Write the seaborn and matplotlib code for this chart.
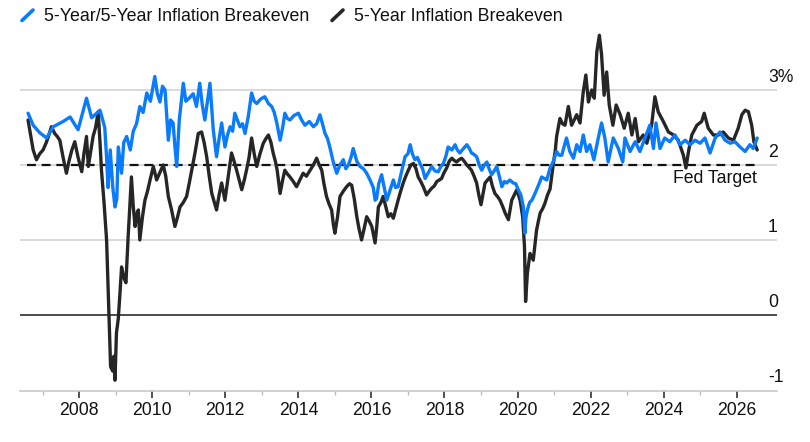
import pandas as pd
import matplotlib.pyplot as plt
import seaborn as sns
from matplotlib.lines import Line2D

# 5-Year/5-Year forward breakeven (blue), decimal years
fwd_years = [
    2006.60, 2006.74, 2006.92, 2007.11, 2007.29, 2007.56, 2007.75, 2007.97, 2008.20, 2008.34,
    2008.57, 2008.70, 2008.75, 2008.79, 2008.85, 2008.92, 2008.98, 2009.03, 2009.07, 2009.16,
    2009.22, 2009.30, 2009.40, 2009.48, 2009.57, 2009.66, 2009.75, 2009.85, 2009.95, 2010.07,
    2010.14, 2010.21, 2010.28, 2010.35, 2010.44, 2010.50, 2010.57, 2010.62, 2010.67, 2010.74,
    2010.85, 2010.92, 2011.03, 2011.12, 2011.21, 2011.30, 2011.37, 2011.44, 2011.51, 2011.58,
    2011.67, 2011.76, 2011.83, 2011.90, 2011.99, 2012.06, 2012.13, 2012.20, 2012.26, 2012.33,
    2012.40, 2012.47, 2012.54, 2012.63, 2012.72, 2012.79, 2012.86, 2012.97, 2013.08, 2013.18,
    2013.27, 2013.34, 2013.41, 2013.50, 2013.57, 2013.63, 2013.70, 2013.77, 2013.88, 2014.00,
    2014.09, 2014.18, 2014.30, 2014.41, 2014.50, 2014.59, 2014.66, 2014.73, 2014.80, 2014.86,
    2014.95, 2015.05, 2015.14, 2015.23, 2015.30, 2015.37, 2015.44, 2015.50, 2015.60, 2015.69,
    2015.78, 2015.87, 2015.96, 2016.05, 2016.10, 2016.14, 2016.20, 2016.28, 2016.35, 2016.42,
    2016.50, 2016.60, 2016.66, 2016.73, 2016.82, 2016.92, 2017.00, 2017.06, 2017.12, 2017.19,
    2017.26, 2017.33, 2017.40, 2017.47, 2017.56, 2017.65, 2017.74, 2017.83, 2017.90, 2017.97,
    2018.04, 2018.10, 2018.20, 2018.29, 2018.35, 2018.42, 2018.52, 2018.61, 2018.68, 2018.74,
    2018.81, 2018.88, 2018.95, 2019.02, 2019.09, 2019.16, 2019.22, 2019.29, 2019.36, 2019.43,
    2019.50, 2019.57, 2019.64, 2019.70, 2019.79, 2019.88, 2019.95, 2020.02, 2020.09, 2020.16,
    2020.20, 2020.23, 2020.27, 2020.33, 2020.39, 2020.46, 2020.52, 2020.59, 2020.66, 2020.73,
    2020.80, 2020.89, 2020.98, 2021.07, 2021.14, 2021.21, 2021.34, 2021.43, 2021.53, 2021.62,
    2021.71, 2021.80, 2021.89, 2021.98, 2022.09, 2022.21, 2022.30, 2022.39, 2022.48, 2022.55,
    2022.62, 2022.76, 2022.88, 2022.94, 2023.08, 2023.22, 2023.35, 2023.49, 2023.62, 2023.72,
    2023.79, 2023.90, 2024.03, 2024.17, 2024.31, 2024.45, 2024.59, 2024.72, 2024.86, 2025.00,
    2025.13, 2025.27, 2025.41, 2025.54, 2025.68, 2025.82, 2025.95, 2026.09, 2026.23, 2026.36,
    2026.45, 2026.56,
]
fwd_vals = [
    2.69, 2.53, 2.43, 2.36, 2.51, 2.58, 2.64, 2.47, 2.89, 2.63,
    2.73, 2.50, 2.10, 1.70, 2.20, 1.70, 1.44, 1.55, 2.24, 1.89,
    2.30, 2.38, 2.20, 2.45, 2.55, 2.78, 2.70, 2.96, 2.85, 3.18,
    2.95, 2.84, 3.05, 3.00, 2.33, 2.60, 2.56, 2.25, 1.98, 2.60,
    3.09, 2.85, 2.90, 2.95, 2.78, 3.09, 2.80, 2.60, 2.85, 3.09,
    2.47, 2.11, 2.35, 2.56, 2.24, 2.40, 2.51, 2.45, 2.69, 2.60,
    2.51, 2.55, 2.42, 2.65, 2.96, 2.85, 2.82, 2.88, 2.91, 2.82,
    2.78, 2.70, 2.56, 2.33, 2.50, 2.69, 2.62, 2.60, 2.66, 2.69,
    2.60, 2.53, 2.58, 2.51, 2.55, 2.67, 2.55, 2.42, 2.35, 2.24,
    2.05, 1.89, 2.00, 2.07, 1.95, 2.00, 2.10, 2.22, 2.05, 1.98,
    1.95, 1.89, 1.80, 1.70, 1.53, 1.55, 1.75, 1.87, 1.70, 1.53,
    1.65, 1.80, 1.70, 1.71, 1.90, 2.11, 2.15, 2.27, 2.15, 2.07,
    2.10, 2.02, 1.95, 1.82, 1.90, 1.98, 1.92, 1.91, 1.98, 2.02,
    2.12, 2.24, 2.20, 2.27, 2.20, 2.16, 2.22, 2.27, 2.22, 2.16,
    2.14, 2.11, 2.00, 1.93, 2.00, 2.04, 1.95, 1.87, 1.92, 1.98,
    1.85, 1.71, 1.78, 1.76, 1.80, 1.76, 1.75, 1.67, 1.60, 1.44,
    1.09, 1.30, 1.40, 1.50, 1.53, 1.60, 1.67, 1.75, 1.84, 1.82,
    1.80, 1.96, 2.05, 2.18, 2.13, 2.13, 2.36, 2.18, 2.09, 2.27,
    2.18, 2.40, 2.18, 2.27, 2.07, 2.36, 2.56, 2.36, 2.04, 2.20,
    2.36, 2.22, 2.04, 2.36, 2.18, 2.31, 2.18, 2.36, 2.53, 2.22,
    2.56, 2.22, 2.36, 2.31, 2.40, 2.27, 2.33, 2.27, 2.33, 2.29,
    2.36, 2.16, 2.36, 2.44, 2.33, 2.29, 2.31, 2.24, 2.18, 2.27,
    2.22, 2.36,
]

# 5-Year breakeven (black)
spot_years = [
    2006.60, 2006.67, 2006.74, 2006.83, 2006.92, 2007.01, 2007.10, 2007.17, 2007.24, 2007.33,
    2007.40, 2007.47, 2007.56, 2007.65, 2007.72, 2007.80, 2007.88, 2007.97, 2008.07, 2008.13,
    2008.20, 2008.25, 2008.32, 2008.38, 2008.45, 2008.52, 2008.57, 2008.61, 2008.68, 2008.75,
    2008.82, 2008.86, 2008.92, 2008.95, 2008.98, 2009.02, 2009.07, 2009.11, 2009.16, 2009.22,
    2009.28, 2009.34, 2009.38, 2009.43, 2009.48, 2009.53, 2009.58, 2009.62, 2009.66, 2009.73,
    2009.80, 2009.87, 2009.94, 2010.03, 2010.12, 2010.21, 2010.30, 2010.37, 2010.44, 2010.53,
    2010.62, 2010.69, 2010.76, 2010.85, 2010.94, 2011.01, 2011.08, 2011.17, 2011.26, 2011.35,
    2011.42, 2011.49, 2011.56, 2011.63, 2011.70, 2011.76, 2011.83, 2011.90, 2011.99, 2012.08,
    2012.17, 2012.24, 2012.31, 2012.38, 2012.45, 2012.52, 2012.58, 2012.65, 2012.72, 2012.79,
    2012.86, 2012.95, 2013.04, 2013.11, 2013.18, 2013.25, 2013.31, 2013.37, 2013.42, 2013.50,
    2013.57, 2013.63, 2013.70, 2013.77, 2013.86, 2013.95, 2014.04, 2014.13, 2014.22, 2014.32,
    2014.41, 2014.50, 2014.57, 2014.64, 2014.70, 2014.77, 2014.84, 2014.91, 2014.96, 2015.00,
    2015.07, 2015.14, 2015.23, 2015.32, 2015.40, 2015.46, 2015.53, 2015.60, 2015.66, 2015.73,
    2015.80, 2015.87, 2015.94, 2016.01, 2016.10, 2016.15, 2016.19, 2016.26, 2016.32, 2016.39,
    2016.46, 2016.53, 2016.60, 2016.66, 2016.73, 2016.80, 2016.87, 2016.94, 2017.01, 2017.08,
    2017.15, 2017.22, 2017.28, 2017.35, 2017.42, 2017.51, 2017.58, 2017.65, 2017.72, 2017.79,
    2017.86, 2017.92, 2017.99, 2018.06, 2018.13, 2018.20, 2018.27, 2018.33, 2018.40, 2018.47,
    2018.54, 2018.61, 2018.67, 2018.74, 2018.81, 2018.88, 2018.94, 2019.00, 2019.05, 2019.11,
    2019.18, 2019.25, 2019.31, 2019.38, 2019.45, 2019.52, 2019.59, 2019.66, 2019.75, 2019.84,
    2019.91, 2019.98, 2020.07, 2020.14, 2020.19, 2020.22, 2020.25, 2020.27, 2020.34, 2020.43,
    2020.52, 2020.57, 2020.62, 2020.69, 2020.75, 2020.82, 2020.89, 2020.98, 2021.03, 2021.07,
    2021.16, 2021.23, 2021.30, 2021.39, 2021.48, 2021.55, 2021.62, 2021.71, 2021.80, 2021.87,
    2021.94, 2022.03, 2022.10, 2022.17, 2022.24, 2022.30, 2022.37, 2022.44, 2022.51, 2022.61,
    2022.70, 2022.81, 2022.92, 2023.03, 2023.13, 2023.22, 2023.31, 2023.44, 2023.54, 2023.67,
    2023.76, 2023.85, 2023.99, 2024.13, 2024.27, 2024.40, 2024.54, 2024.61, 2024.68, 2024.77,
    2024.91, 2025.04, 2025.11, 2025.22, 2025.36, 2025.50, 2025.63, 2025.77, 2025.91, 2026.04,
    2026.14, 2026.23, 2026.32, 2026.41, 2026.47, 2026.56,
]
spot_vals = [
    2.60, 2.40, 2.20, 2.07, 2.15, 2.20, 2.30, 2.40, 2.51, 2.42,
    2.38, 2.33, 2.10, 1.89, 2.05, 2.20, 2.31, 2.10, 1.91, 2.15,
    2.38, 1.98, 2.20, 2.38, 2.50, 2.71, 2.30, 1.93, 1.50, 1.00,
    -0.07, -0.69, -0.75, -0.55, -0.87, -0.24, -0.05, 0.24, 0.64, 0.50,
    0.43, 1.04, 1.40, 1.84, 1.45, 1.18, 1.35, 1.40, 1.00, 1.30,
    1.53, 1.65, 1.80, 1.98, 1.80, 1.90, 2.00, 1.85, 1.58, 1.40,
    1.18, 1.30, 1.44, 1.50, 1.58, 1.75, 1.93, 2.16, 2.42, 2.44,
    2.30, 2.11, 1.85, 1.62, 1.50, 1.40, 1.60, 1.76, 1.53, 1.85,
    2.16, 2.05, 1.93, 1.80, 1.67, 1.80, 1.93, 2.10, 2.36, 2.15,
    1.98, 2.15, 2.29, 2.35, 2.40, 2.30, 2.16, 2.05, 1.93, 1.62,
    1.80, 1.93, 1.88, 1.84, 1.78, 1.71, 1.80, 1.89, 1.85, 1.93,
    2.00, 2.09, 2.00, 1.93, 1.75, 1.58, 1.48, 1.40, 1.20, 1.09,
    1.30, 1.58, 1.65, 1.71, 1.75, 1.73, 1.55, 1.31, 1.15, 1.00,
    1.15, 1.31, 1.25, 1.18, 0.96, 1.20, 1.44, 1.50, 1.58, 1.45,
    1.31, 1.35, 1.29, 1.40, 1.53, 1.65, 1.76, 1.85, 1.93, 2.00,
    2.02, 1.95, 1.84, 1.78, 1.71, 1.60, 1.65, 1.69, 1.72, 1.78,
    1.80, 1.82, 1.90, 1.96, 2.05, 2.09, 2.06, 2.04, 2.07, 2.09,
    2.05, 2.00, 1.97, 1.93, 1.85, 1.76, 1.60, 1.47, 1.60, 1.76,
    1.80, 1.84, 1.72, 1.62, 1.58, 1.53, 1.45, 1.36, 1.27, 1.53,
    1.60, 1.67, 1.53, 1.31, 0.91, 0.18, 0.40, 0.56, 0.82, 0.73,
    1.13, 1.25, 1.36, 1.42, 1.49, 1.60, 1.68, 2.02, 2.18, 2.38,
    2.62, 2.55, 2.53, 2.78, 2.53, 2.60, 2.67, 2.56, 2.98, 3.20,
    2.84, 3.00, 2.89, 3.51, 3.73, 3.47, 2.93, 3.24, 2.80, 2.53,
    2.80, 2.67, 2.49, 2.69, 2.40, 2.62, 2.31, 2.40, 2.29, 2.53,
    2.91, 2.71, 2.58, 2.44, 2.40, 2.33, 2.13, 1.96, 2.18, 2.40,
    2.53, 2.58, 2.69, 2.49, 2.40, 2.40, 2.44, 2.36, 2.33, 2.49,
    2.67, 2.73, 2.71, 2.53, 2.31, 2.20,
]

year_ticks = list(range(2008, 2027, 2))
minor_ticks = list(range(2007, 2026, 2))
y_levels = [-1, 0, 1, 2, 3]
y_labels = ["-1", "0", "1", "2", "3%"]
fed_target = 2.0

BLUE = "#0a7cfb"
BLACK = "#262626"
TXT = "#111111"

sns.set_style("white")
plt.rcParams["font.family"] = ["Liberation Sans", "DejaVu Sans"]
plt.rcParams["font.size"] = 12.7

fwd = pd.DataFrame({"year": fwd_years, "value": fwd_vals})
spot = pd.DataFrame({"year": spot_years, "value": spot_vals})

fig = plt.figure(figsize=(8.1, 4.42), dpi=100)
ax = fig.add_axes([0.0247, 0.1161, 0.9349, 0.8245])

# gridlines + zero line
for lv in [1, 2, 3]:
    ax.axhline(lv, color="#cfcfcf", lw=1.1, zorder=0)
ax.axhline(0, color="#1a1a1a", lw=1.1, zorder=1)

# fed target
ax.hlines(fed_target, fwd["year"].min() - 0.03, fwd["year"].max(), colors="#111111",
          linestyles=(0, (4, 2.6)), lw=1.6, zorder=2)

sns.lineplot(data=spot, x="year", y="value", color=BLACK, lw=2.4, ax=ax,
             estimator=None, sort=False, zorder=3)
sns.lineplot(data=fwd, x="year", y="value", color=BLUE, lw=2.4, ax=ax,
             estimator=None, sort=False, zorder=4)

ax.set_xlim(2006.38, 2027.11)
ax.set_ylim(-1.01, 3.85)

for s in ["top", "right", "left"]:
    ax.spines[s].set_visible(False)
ax.spines["bottom"].set_color("#c8c8c8")
ax.spines["bottom"].set_linewidth(1.2)

ax.set_xticks(year_ticks)
ax.set_xticklabels([str(y) for y in year_ticks])
ax.set_xticks(minor_ticks, minor=True)
ax.tick_params(axis="x", which="major", length=4.8, width=1.2, color="#333333",
               pad=3.2, labelcolor=TXT, labelsize=12.7, direction="out", bottom=True)
ax.tick_params(axis="x", which="minor", length=3.1, width=1.0, color="#bdbdbd",
               direction="out", bottom=True)
ax.set_yticks([])
ax.set_xlabel("")
ax.set_ylabel("")

# y labels sitting on top of their gridlines at the right
for lv, lab in zip(y_levels, y_labels):
    ax.annotate(lab, xy=(0.9877, lv), xycoords=ax.get_yaxis_transform(),
                xytext=(0, 6), textcoords="offset points",
                ha="left", va="baseline", color=TXT, fontsize=12.7)

ax.annotate("Fed Target", xy=(fwd["year"].max(), fed_target), xycoords="data",
            xytext=(0, -13.2), textcoords="offset points",
            ha="right", va="baseline", color=TXT, fontsize=12.7)

# legend with slanted line keys
W, H = 810, 442
for x0, col, lab in [(22, BLUE, "5-Year/5-Year Inflation Breakeven"),
                     (332, BLACK, "5-Year Inflation Breakeven")]:
    fig.add_artist(Line2D([x0 / W, (x0 + 11) / W], [1 - 20.5 / H, 1 - 10 / H],
                          transform=fig.transFigure, color=col, lw=2.6,
                          solid_capstyle="round"))
    fig.text((x0 + 22) / W, 1 - 20.7 / H, lab, ha="left", va="baseline",
             color=TXT, fontsize=12.8)

fig.savefig("out.png", dpi=100)
